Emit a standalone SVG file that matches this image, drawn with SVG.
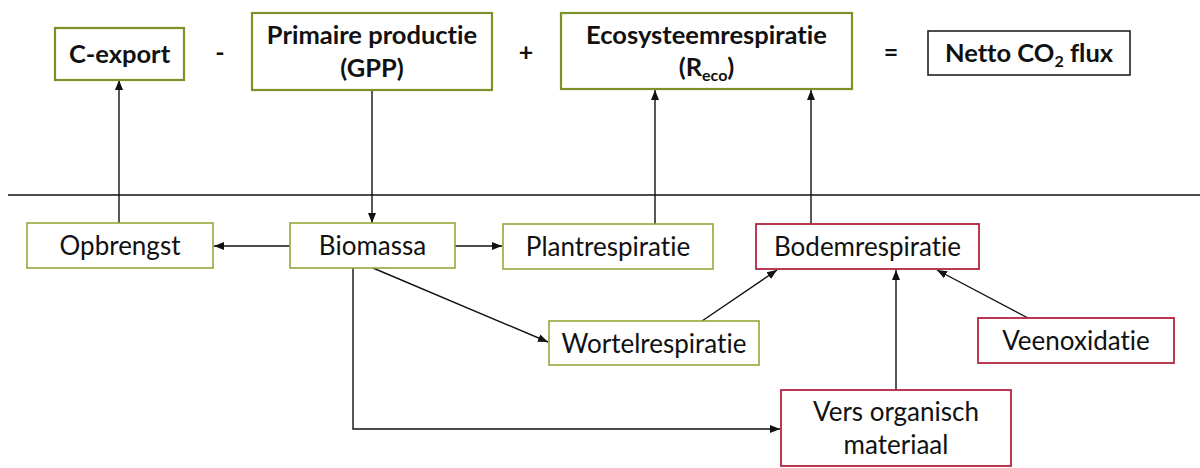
<svg xmlns="http://www.w3.org/2000/svg" width="1200" height="468" viewBox="0 0 1200 468">
<style>
  text { font-family: Lato, "Open Sans", "Liberation Sans", sans-serif; fill: #111; text-anchor: middle; font-variant-ligatures: none; font-feature-settings: "liga" 0, "dlig" 0; }
  .b { font-weight: bold; font-size: 25.5px; }
  .r { font-size: 26px; }
  .op { font-weight: bold; font-size: 25px; }
  .sub { font-size: 16px; }
  .gt { fill: #fff; stroke: #7a9228; stroke-width: 2.2; }
  .g { fill: #fff; stroke: #93a83a; stroke-width: 1.6; }
  .red { fill: #fff; stroke: #b4253f; stroke-width: 1.8; }
  .k { fill: #fff; stroke: #222; stroke-width: 1.6; }
  .c { fill: none; stroke: #111; stroke-width: 1.4; marker-end: url(#ah); }
</style>
<defs>
  <marker id="ah" markerUnits="userSpaceOnUse" markerWidth="10" markerHeight="10" viewBox="0 0 10 10" refX="10" refY="5" orient="auto">
    <path d="M0,1 L10,5 L0,9 Z" fill="#111"/>
  </marker>
</defs>
<rect x="0" y="0" width="1200" height="468" fill="#fff"/>
<line x1="8" y1="195" x2="1200" y2="195" stroke="#111" stroke-width="1.5"/>

<text class="op" x="220" y="61">-</text>
<text class="op" x="526" y="61">+</text>
<text class="op" x="891" y="61">=</text>

<g id="connectors">
  <line class="c" x1="119" y1="223" x2="119" y2="80"/>
  <line class="c" x1="372" y1="90" x2="372" y2="223"/>
  <line class="c" x1="290" y1="246" x2="214" y2="246"/>
  <line class="c" x1="455" y1="246" x2="502" y2="246"/>
  <line class="c" x1="655" y1="224" x2="655" y2="90"/>
  <line class="c" x1="811" y1="224" x2="811" y2="90"/>
  <line class="c" x1="373" y1="268" x2="548" y2="342"/>
  <line class="c" x1="702" y1="321" x2="777" y2="270"/>
  <line class="c" x1="896" y1="390" x2="896" y2="270"/>
  <line class="c" x1="1028" y1="318" x2="937" y2="270"/>
  <path class="c" d="M353,268 V429 H780"/>
</g>

<g id="c-export">
  <rect class="gt" x="55" y="28" width="129" height="52"/>
  <text class="b" x="119.5" y="63">C-export</text>
</g>
<g id="gpp">
  <rect class="gt" x="252" y="13" width="240" height="77"/>
  <text class="b" x="372" y="44">Primaire productie</text>
  <text class="b" x="372" y="77">(GPP)</text>
</g>
<g id="reco">
  <rect class="gt" x="561" y="13" width="291" height="76"/>
  <text class="b" x="706.5" y="44">Ecosysteemrespiratie</text>
  <text class="b" x="706.5" y="76">(R<tspan class="sub" dy="5">eco</tspan><tspan dy="-5">)</tspan></text>
</g>
<g id="netto">
  <rect class="k" x="928" y="31" width="202" height="44"/>
  <text class="b" x="1029" y="62">Netto CO<tspan class="sub" dy="5">2</tspan><tspan dy="-5"> flux</tspan></text>
</g>

<g id="opbrengst">
  <rect class="g" x="27" y="223" width="186" height="45"/>
  <text class="r" x="120" y="255">Opbrengst</text>
</g>
<g id="biomassa">
  <rect class="g" x="290" y="223" width="165" height="45"/>
  <text class="r" x="372.5" y="255">Biomassa</text>
</g>
<g id="plantrespiratie">
  <rect class="g" x="503" y="224" width="210" height="45"/>
  <text class="r" x="608" y="256">Plantrespiratie</text>
</g>
<g id="bodemrespiratie">
  <rect class="red" x="756" y="224" width="223" height="45"/>
  <text class="r" x="867.5" y="256">Bodemrespiratie</text>
</g>
<g id="wortelrespiratie">
  <rect class="g" x="549" y="321" width="210" height="44"/>
  <text class="r" x="654" y="352.5">Wortelrespiratie</text>
</g>
<g id="veenoxidatie">
  <rect class="red" x="978" y="318" width="196" height="45"/>
  <text class="r" x="1076" y="350">Veenoxidatie</text>
</g>
<g id="vers-organisch-materiaal">
  <rect class="red" x="781" y="390" width="230" height="76"/>
  <text class="r" x="896" y="421">Vers organisch</text>
  <text class="r" x="896" y="454">materiaal</text>
</g>
</svg>
